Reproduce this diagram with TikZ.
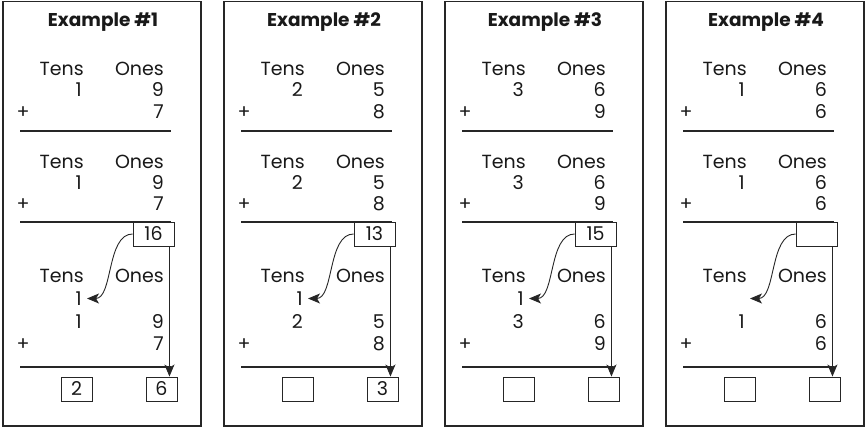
\documentclass[tikz,border=0pt]{standalone}
\usepackage{fontspec}
\setmainfont{Poppins}
\usetikzlibrary{arrows.meta}

\tikzset{
  panel/.style={draw=black!85, line width=1.3pt},
  rule/.style={draw=black!85, line width=1.1pt},
  digit/.style={inner sep=0pt, text height=13pt, text depth=0pt,
    text=black!90, font=\fontsize{19}{21}\selectfont},
  headline/.style={inner sep=0pt, text=black!90,
    font=\bfseries\fontsize{18.5}{21}\selectfont},
  box/.style={draw=black!85, line width=0.9pt, inner sep=0pt,
    minimum height=24pt, text=black!90, font=\fontsize{19}{21}\selectfont},
  carrybox/.style={box, minimum width=41pt},
  ansbox/.style={box, minimum width=31pt},
  carryarrow/.style={draw=black!85, line width=0.9pt,
    -{Stealth[length=12pt, width=10pt, inset=3pt]}},
}

\begin{document}
\begin{tikzpicture}[x=1pt, y=-1pt]
  \useasboundingbox (0,0) rectangle (866,428);

  \foreach \n/\tensdig/\onesdig/\adddig/\sumtxt/\anstens/\ansones/\carrydig in
    {1/1/9/7/16/2/6/1, 2/2/5/8/13//3/1, 3/3/6/9/15///1, 4/1/6/6////}{
  \begin{scope}[shift={({3+221*(\n-1)},0)}]
    \draw[panel] (0,1.5) rectangle (198,426);
    \node[headline, anchor=base] (head\n) at (100,27) {Example \#\n};

    % the sum
    \node[digit, anchor=base east] (tensA\n) at (81,75) {Tens};
    \node[digit, anchor=base east] (onesA\n) at (161,75) {Ones};
    \node[digit, anchor=base east] (topA\n) at (79,96) {\tensdig};
    \node[digit, anchor=base east] (oneA\n) at (161,96) {\onesdig};
    \node[digit, anchor=base] (plusA\n) at (20,118) {+};
    \node[digit, anchor=base east] (addA\n) at (161,118) {\adddig};
    \draw[rule] (17,131) -- (168,131);

    % add the ones
    \node[digit, anchor=base east] (tensB\n) at (81,168) {Tens};
    \node[digit, anchor=base east] (onesB\n) at (161,168) {Ones};
    \node[digit, anchor=base east] (topB\n) at (79,189) {\tensdig};
    \node[digit, anchor=base east] (oneB\n) at (161,189) {\onesdig};
    \node[digit, anchor=base] (plusB\n) at (20,210) {+};
    \node[digit, anchor=base east] (addB\n) at (161,210) {\adddig};
    \draw[rule] (17,222) -- (168,222);
    \node[carrybox] (carry\n) at (150.5,234) {\sumtxt};

    % regroup
    \node[digit, anchor=base east] (tensC\n) at (81,282) {Tens};
    \node[digit, anchor=base east] (onesC\n) at (161,282) {Ones};
    \node[digit, anchor=base east] (carryd\n) at (79,305) {\carrydig};
    \node[digit, anchor=base east] (topC\n) at (79,328) {\tensdig};
    \node[digit, anchor=base east] (oneC\n) at (161,328) {\onesdig};
    \node[digit, anchor=base] (plusC\n) at (20,350) {+};
    \node[digit, anchor=base east] (addC\n) at (161,350) {\adddig};
    \draw[rule] (17,367) -- (168,367);

    \node[ansbox] (tensbox\n) at (73.5,389) {\anstens};
    \node[ansbox] (onesbox\n) at (158.5,389) {\ansones};

    \draw[carryarrow] (carry\n.west) .. controls +(-26,0) and +(26,0)
      .. ([xshift=5pt]carryd\n.east);
    \draw[carryarrow] ([xshift=-5pt]carry\n.south east)
      -- ([xshift=-5pt]carry\n.south east |- onesbox\n.north);
  \end{scope}
  }
\end{tikzpicture}
\end{document}
